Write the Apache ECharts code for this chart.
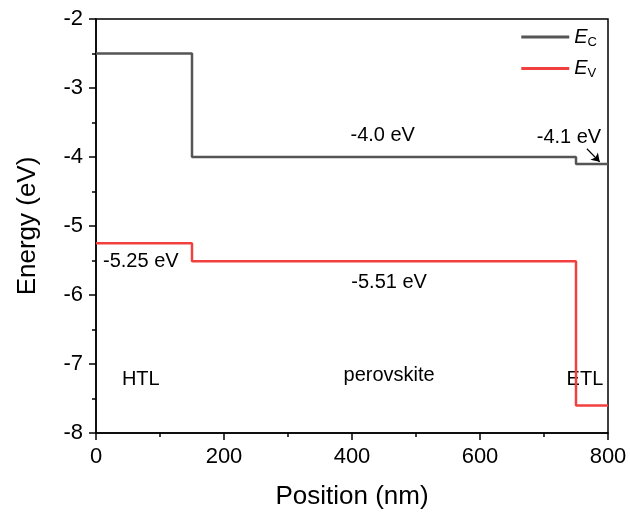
<!DOCTYPE html>
<html>
<head>
<meta charset="utf-8">
<script src="https://cdn.jsdelivr.net/npm/echarts@6/dist/echarts.min.js"></script>
<style>
  html, body { margin: 0; padding: 0; background: #fff; }
  #main { width: 630px; height: 515px; }
</style>
</head>
<body>
<div id="main"></div>
<script>
// band edges (nm) and energies (eV)
var positions = [0, 150, 750, 800]
var ecValues = [-2.5, -4.0, -4.1, -4.1]
var evValues = [-5.25, -5.51, -7.6, -7.6]
var xTicks = [0, 200, 400, 600, 800]
var yTicks = [-8, -7, -6, -5, -4, -3, -2]

// text notes: [x, y, text]
var notes = [
  [448, -3.69, '-4.0 eV'],
  [739, -3.72, '-4.1 eV'],
  [70, -5.51, '-5.25 eV'],
  [458, -5.82, '-5.51 eV'],
  [70, -7.23, 'HTL'],
  [458, -7.16, 'perovskite'],
  [764, -7.23, 'ETL']
]
var arrowFrom = [767, -3.88]
var arrowTo = [787, -4.07]

var FONT = 'Liberation Sans, Arial, sans-serif'

function pairs (xs, ys) {
  var out = []
  for (var i = 0; i < xs.length; i++) out.push([xs[i], ys[i]])
  return out
}

var chart = echarts.init(document.getElementById('main'))
chart.setOption({
  animation: false,
  textStyle: { fontFamily: FONT },
  grid: {
    left: 96, right: 22, top: 19, bottom: 81,
    show: true, borderColor: '#000', borderWidth: 1.5
  },
  legend: {
    orient: 'vertical',
    right: 28,
    top: 22,
    itemWidth: 48,
    itemHeight: 3,
    itemGap: 10,
    icon: 'rect',
    data: ['EC', 'EV'],
    formatter: function (name) {
      return '{i|E}{s|' + name.charAt(1) + '}'
    },
    textStyle: {
      rich: {
        i: { fontSize: 20, fontStyle: 'italic', color: '#000', fontFamily: FONT },
        s: { fontSize: 13, color: '#000', fontFamily: FONT, padding: [10, 0, 0, 0] }
      }
    }
  },
  xAxis: {
    type: 'value',
    min: xTicks[0],
    max: xTicks[xTicks.length - 1],
    interval: 200,
    name: 'Position (nm)',
    nameLocation: 'middle',
    nameGap: 51,
    nameTextStyle: { fontSize: 26, color: '#000', fontFamily: FONT },
    axisLine: { lineStyle: { color: '#000', width: 1.5 } },
    axisTick: { inside: false, length: 7, lineStyle: { color: '#000', width: 1.5 } },
    minorTick: { show: true, splitNumber: 2, length: 4, lineStyle: { color: '#000', width: 1.5 } },
    axisLabel: { fontSize: 22, color: '#000', margin: 13 },
    splitLine: { show: false }
  },
  yAxis: {
    type: 'value',
    min: yTicks[0],
    max: yTicks[yTicks.length - 1],
    interval: 1,
    name: 'Energy (eV)',
    nameLocation: 'middle',
    nameGap: 55,
    nameTextStyle: { fontSize: 26, color: '#000', fontFamily: FONT },
    axisLine: { lineStyle: { color: '#000', width: 1.5 } },
    axisTick: { inside: false, length: 7, lineStyle: { color: '#000', width: 1.5 } },
    minorTick: { show: true, splitNumber: 2, length: 4, lineStyle: { color: '#000', width: 1.5 } },
    axisLabel: { fontSize: 22, color: '#000', margin: 13 },
    splitLine: { show: false }
  },
  series: [
    {
      name: 'EC',
      type: 'line',
      step: 'end',
      showSymbol: false,
      color: '#555555',
      lineStyle: { width: 2.5, color: '#555555' },
      data: pairs(positions, ecValues)
    },
    {
      name: 'EV',
      type: 'line',
      step: 'end',
      showSymbol: false,
      color: '#f24040',
      lineStyle: { width: 2.5, color: '#f24040' },
      data: pairs(positions, evValues)
    },
    {
      name: 'notes',
      type: 'scatter',
      symbolSize: 0,
      silent: true,
      itemStyle: { opacity: 1 },
      data: notes.map(function (n) { return { value: [n[0], n[1]], name: n[2] } }),
      label: {
        show: true,
        position: 'inside',
        formatter: '{b}',
        fontSize: 20,
        color: '#000',
        opacity: 1,
        fontFamily: FONT
      },
      markLine: {
        silent: true,
        symbol: ['none', 'arrow'],
        symbolSize: 8,
        label: { show: false },
        lineStyle: { color: '#000', width: 1.2, type: 'solid' },
        data: [[{ coord: arrowFrom }, { coord: arrowTo }]]
      }
    }
  ]
})
</script>
</body>
</html>
